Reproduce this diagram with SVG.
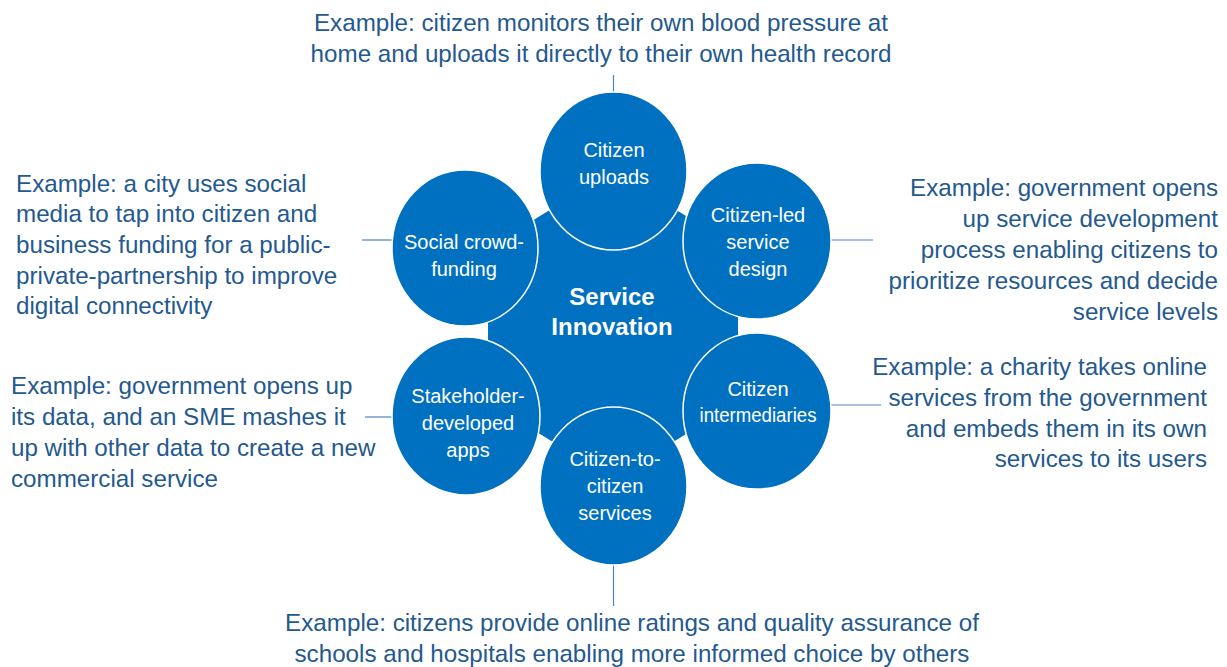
<svg xmlns="http://www.w3.org/2000/svg" width="1227" height="667" viewBox="0 0 1227 667">
<style>
.ex{font-family:"Liberation Sans",Arial,sans-serif;font-size:24.2px;fill:#24598F}
.nd{fill:#0070C0;stroke:#FFFFFF;stroke-width:1.5}
.lb{font-family:"Liberation Sans",Arial,sans-serif;font-size:20px;fill:#FFFFFF;text-anchor:middle}
.ctr{font-family:"Liberation Sans",Arial,sans-serif;font-size:24px;font-weight:bold;fill:#FFFFFF;text-anchor:middle}
.cn{stroke:#4F82C0;stroke-width:1.2;fill:none}
</style>
<rect width="1227" height="667" fill="#FFFFFF"/>
<g id="connectors">
<line class="cn" x1="613.5" y1="75" x2="613.5" y2="92"/>
<line class="cn" x1="362" y1="240" x2="392" y2="240"/>
<line class="cn" x1="365" y1="417" x2="392" y2="417"/>
<line class="cn" x1="831" y1="240" x2="873" y2="240"/>
<line class="cn" x1="831" y1="405" x2="881" y2="405"/>
<line class="cn" x1="613.5" y1="565" x2="613.5" y2="606"/>
</g>
<g id="center">
<polygon points="613,171 738,248 738,402 613,479 488,402 488,248" fill="#0070C0"/>
<text class="ctr" x="612" y="305">Service</text>
<text class="ctr" x="612" y="335">Innovation</text>
</g>
<g id="node-citizen-uploads">
<ellipse class="nd" cx="613.5" cy="171" rx="73.5" ry="79"/>
<text class="lb" x="614" y="157">Citizen</text>
<text class="lb" x="614" y="184">uploads</text>
</g>
<g id="node-social-crowdfunding">
<ellipse class="nd" cx="465" cy="248" rx="73" ry="78"/>
<text class="lb" x="464" y="249">Social crowd-</text>
<text class="lb" x="464" y="276">funding</text>
</g>
<g id="node-citizen-led">
<ellipse class="nd" cx="757" cy="241" rx="74" ry="78"/>
<text class="lb" x="758" y="222">Citizen-led</text>
<text class="lb" x="758" y="249">service</text>
<text class="lb" x="758" y="276">design</text>
</g>
<g id="node-stakeholder">
<ellipse class="nd" cx="466" cy="416" rx="74" ry="79"/>
<text class="lb" x="468" y="403">Stakeholder-</text>
<text class="lb" x="468" y="430">developed</text>
<text class="lb" x="468" y="457">apps</text>
</g>
<g id="node-intermediaries">
<ellipse class="nd" cx="757" cy="411" rx="74" ry="78"/>
<text class="lb" x="758" y="396">Citizen</text>
<text class="lb" x="758" y="422" textLength="117" lengthAdjust="spacingAndGlyphs">intermediaries</text>
</g>
<g id="node-citizen-to-citizen">
<ellipse class="nd" cx="613.5" cy="486" rx="73.5" ry="79"/>
<text class="lb" x="615" y="466">Citizen-to-</text>
<text class="lb" x="615" y="493">citizen</text>
<text class="lb" x="615" y="520">services</text>
</g>
<g id="text-top" class="ex" text-anchor="middle">
<text x="601" y="31">Example: citizen monitors their own blood pressure at</text>
<text x="601" y="62">home and uploads it directly to their own health record</text>
</g>
<g id="text-left-upper" class="ex">
<text x="16" y="192">Example: a city uses social</text>
<text x="16" y="222">media to tap into citizen and</text>
<text x="16" y="253">business funding for a public-</text>
<text x="16" y="284">private-partnership to improve</text>
<text x="16" y="314">digital connectivity</text>
</g>
<g id="text-left-lower" class="ex">
<text x="11" y="394">Example: government opens up</text>
<text x="11" y="425">its data, and an SME mashes it</text>
<text x="11" y="456">up with other data to create a new</text>
<text x="11" y="487">commercial service</text>
</g>
<g id="text-right-upper" class="ex" text-anchor="end">
<text x="1218" y="196">Example: government opens</text>
<text x="1218" y="227">up service development</text>
<text x="1218" y="258">process enabling citizens to</text>
<text x="1218" y="289">prioritize resources and decide</text>
<text x="1218" y="320">service levels</text>
</g>
<g id="text-right-lower" class="ex" text-anchor="end">
<text x="1207" y="375">Example: a charity takes online</text>
<text x="1207" y="406">services from the government</text>
<text x="1207" y="437">and embeds them in its own</text>
<text x="1207" y="467">services to its users</text>
</g>
<g id="text-bottom" class="ex" text-anchor="middle">
<text x="632" y="631">Example: citizens provide online ratings and quality assurance of</text>
<text x="632" y="662">schools and hospitals enabling more informed choice by others</text>
</g>
</svg>
